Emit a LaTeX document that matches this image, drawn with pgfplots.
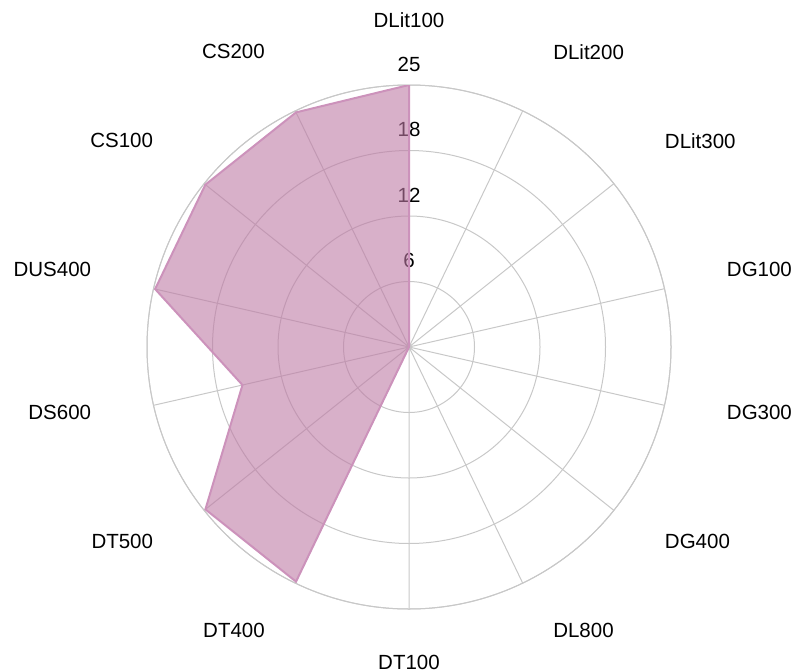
\documentclass[border=0pt]{standalone}
\usepackage{fontspec}
\setmainfont{Liberation Sans}
\usepackage{pgfplots}
\pgfplotsset{compat=1.18}
\usepgfplotslibrary{polar}
\definecolor{gridc}{RGB}{200,200,200}
\definecolor{fillc}{RGB}{190,123,165}
\definecolor{linec}{RGB}{204,146,187}
\newcommand{\Lt}[1]{\llap{#1\hspace{2.5pt}}}
\newcommand{\Rt}[1]{\rlap{\hspace{2.5pt}#1}}
\begin{document}
\begin{tikzpicture}
\begin{polaraxis}[
  set layers,
  scale only axis, width=262pt, height=262pt,
  xmin=90, xmax=450, ymin=0, ymax=25,
  xtick={90,115.7143,141.4286,167.1429,192.8571,218.5714,244.2857,270,295.7143,321.4286,347.1429,372.8571,398.5714,424.2857},
  xticklabels={DLit100,\Lt{CS200},\Lt{CS100},\Lt{DUS400},\Lt{DS600},\Lt{DT500},\Lt{DT400},DT100,\Rt{DL800},\Rt{DG400},\Rt{DG300},\Rt{DG100},\Rt{DLit300},\Rt{DLit200}},
  ytick={6.25,12.5,18.75,25}, yticklabels={6,12,18,25},
  grid=major, major grid style={gridc, line width=0.5pt},
  axis line style={gridc, line width=0.5pt},
  major tick length=0pt,
  tick style={draw=none},
  ticklabel style={font=\fontsize{10.25}{12}\selectfont},
  xticklabel style={anchor=center, inner sep=0pt, shift={(\tick:29.5pt)}, yshift=3pt},
  yticklabel style={anchor=south, inner sep=0pt, yshift=6.5pt},
  /pgf/number format/assume math mode=true,
]
\addplot[draw=linec, line width=1pt, fill=fillc, fill opacity=0.6] coordinates {
(90,25) (424.2857,0) (398.5714,0) (372.8571,0) (347.1429,0) (321.4286,0) (295.7143,0) (270,0)
(244.2857,24.85) (218.5714,24.85) (192.8571,16.3) (167.1429,24.85) (141.4286,24.85) (115.7143,24.85) (90,25)};
\end{polaraxis}
\pgfresetboundingbox
\path[use as bounding box] ([xshift=-204.5pt,yshift=-162pt]current axis.center) rectangle ([xshift=193pt,yshift=173.5pt]current axis.center);
\end{tikzpicture}
\end{document}
